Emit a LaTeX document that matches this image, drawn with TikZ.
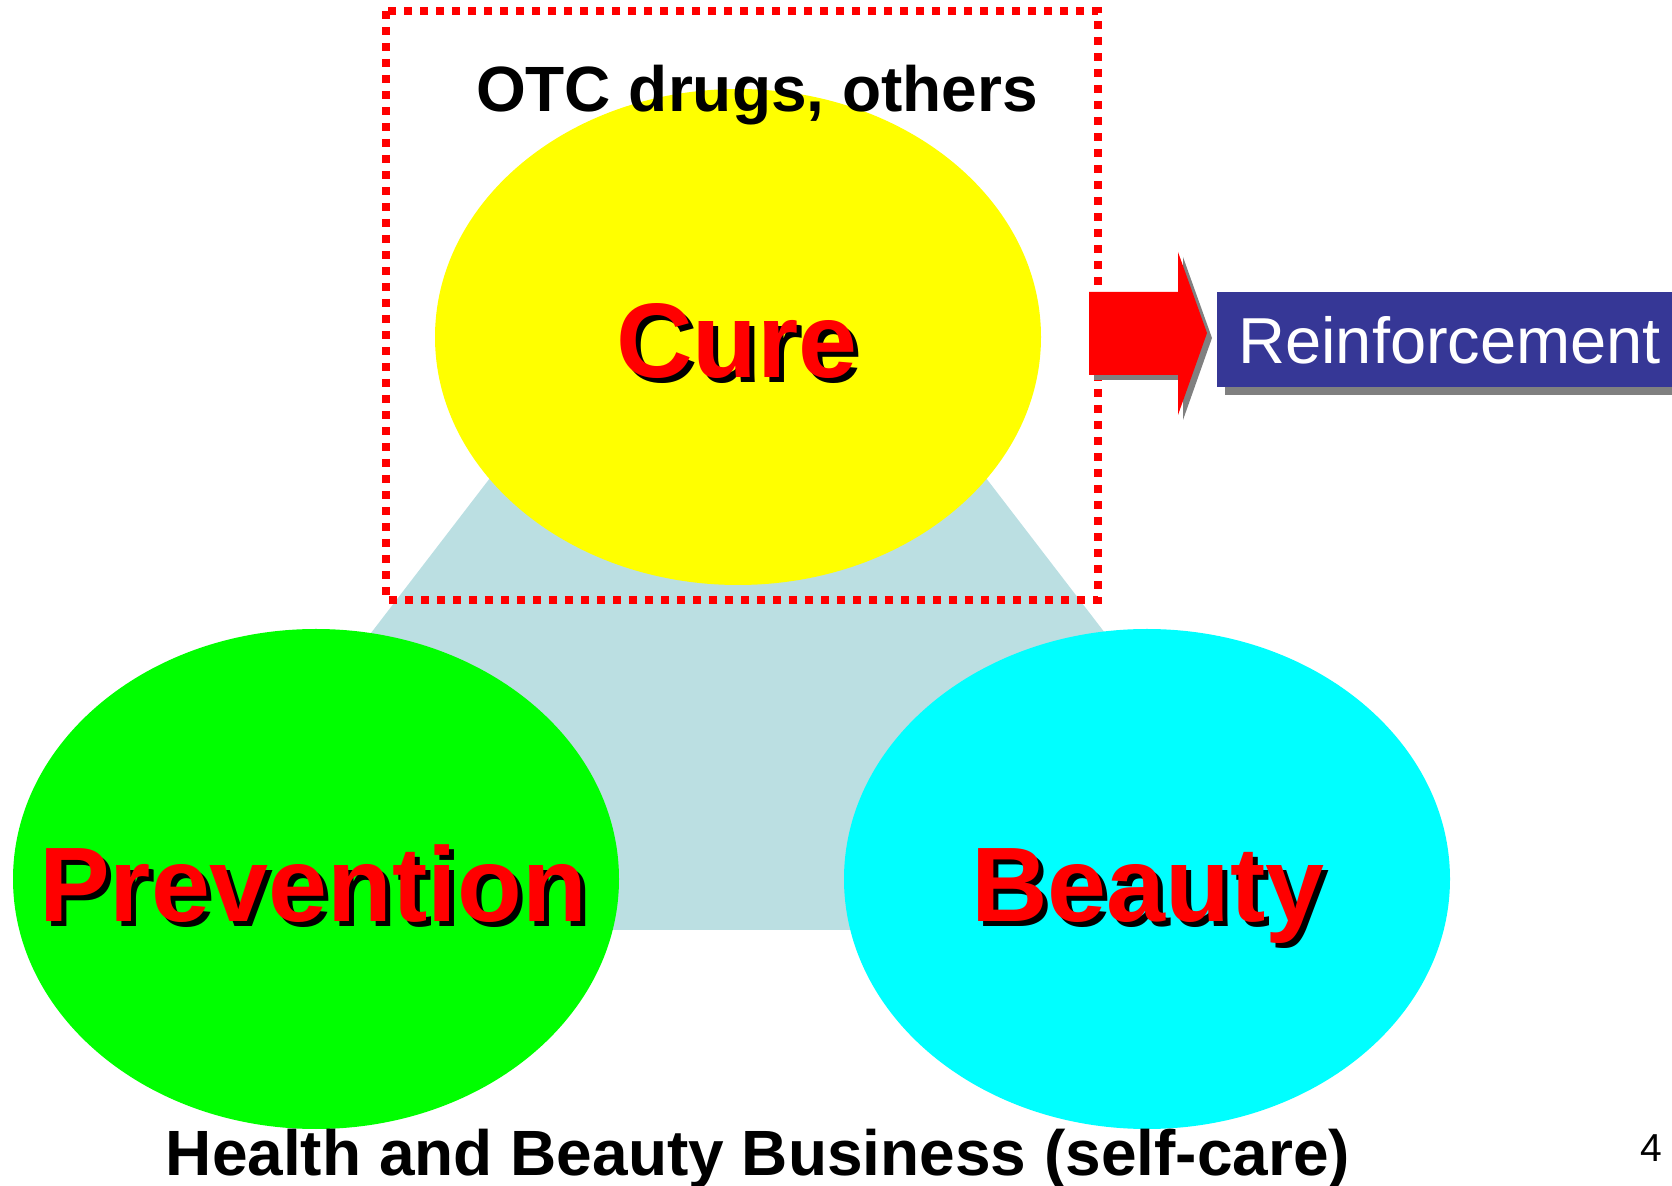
\documentclass[tikz,border=0pt]{standalone}
\usepackage{fontspec}
\setmainfont{Liberation Sans}
\usetikzlibrary{shapes.geometric,shadows,calc}
\definecolor{tribg}{RGB}{187,223,226}
\definecolor{boxblue}{RGB}{54,55,150}
\definecolor{shadowgray}{RGB}{128,128,128}
\definecolor{cureyellow}{RGB}{255,255,0}
\definecolor{prevgreen}{RGB}{0,255,0}
\definecolor{beautycyan}{RGB}{0,255,255}
\definecolor{wordred}{RGB}{255,0,0}
% red word with a black shadow: position, name, text
\newcommand{\redword}[3]{%
  \node[word, text=black] at ($(#1)+(5,5)$) {#3};
  \node[word] (#2) at (#1) {#3};}

\begin{document}
\begin{tikzpicture}[x=0.5pt, y=-0.5pt,
    blob/.style={ellipse, inner sep=0pt, minimum width=303pt, minimum height=248pt},
    word/.style={anchor=base, inner sep=0pt, text=wordred, font=\fontsize{53}{60}\selectfont\bfseries},
    title/.style={anchor=base, inner sep=0pt, font=\fontsize{32}{38}\selectfont\bfseries}]
		\useasboundingbox (0,0) rectangle (1672,1186);
		\fill[tribg] (738,155) -- (1333,930) -- (143,930) -- cycle;
		\node[blob, fill=cureyellow] (cure) at (738,337) {};
		\node[blob, fill=prevgreen, minimum height=250pt] (prev) at (316,879) {};
		\node[blob, fill=beautycyan, minimum height=250pt] (beauty) at (1147,879) {};
		\draw[wordred, line width=4pt, dash pattern=on 4pt off 4pt] (386,11) rectangle (1098,600);
		\node[title] (otc) at (757,112) {OTC drugs, others};
		\redword{737,378}{cureword}{Cure}
		\redword{313,922}{prevword}{Prevention}
		\redword{1148,922}{beautyword}{Beauty}
		% block arrow to the box
		\path[fill=wordred, preaction={fill=shadowgray, transform canvas={shift={(2.5pt,-2.5pt)}}}]
			(1089,292) -- (1178,292) -- (1178,252) -- (1207,333) -- (1178,415) -- (1178,375) -- (1089,375) -- cycle;
		\node[fill=boxblue, text=white, anchor=north west, minimum height=47.5pt, inner xsep=10.5pt,
			general shadow={fill=shadowgray, shadow xshift=4pt, shadow yshift=-4pt},
			font=\fontsize{32.5}{38}\selectfont] (reinf) at (1217,292) {Reinforcement};
		\node[title] (hbb) at (758,1175) {Health and Beauty Business (self-care)};
		\node[anchor=base, inner sep=0pt, font=\fontsize{19.5}{22}\selectfont] (page) at (1651,1161) {4};
    \end{tikzpicture}
\end{document}
